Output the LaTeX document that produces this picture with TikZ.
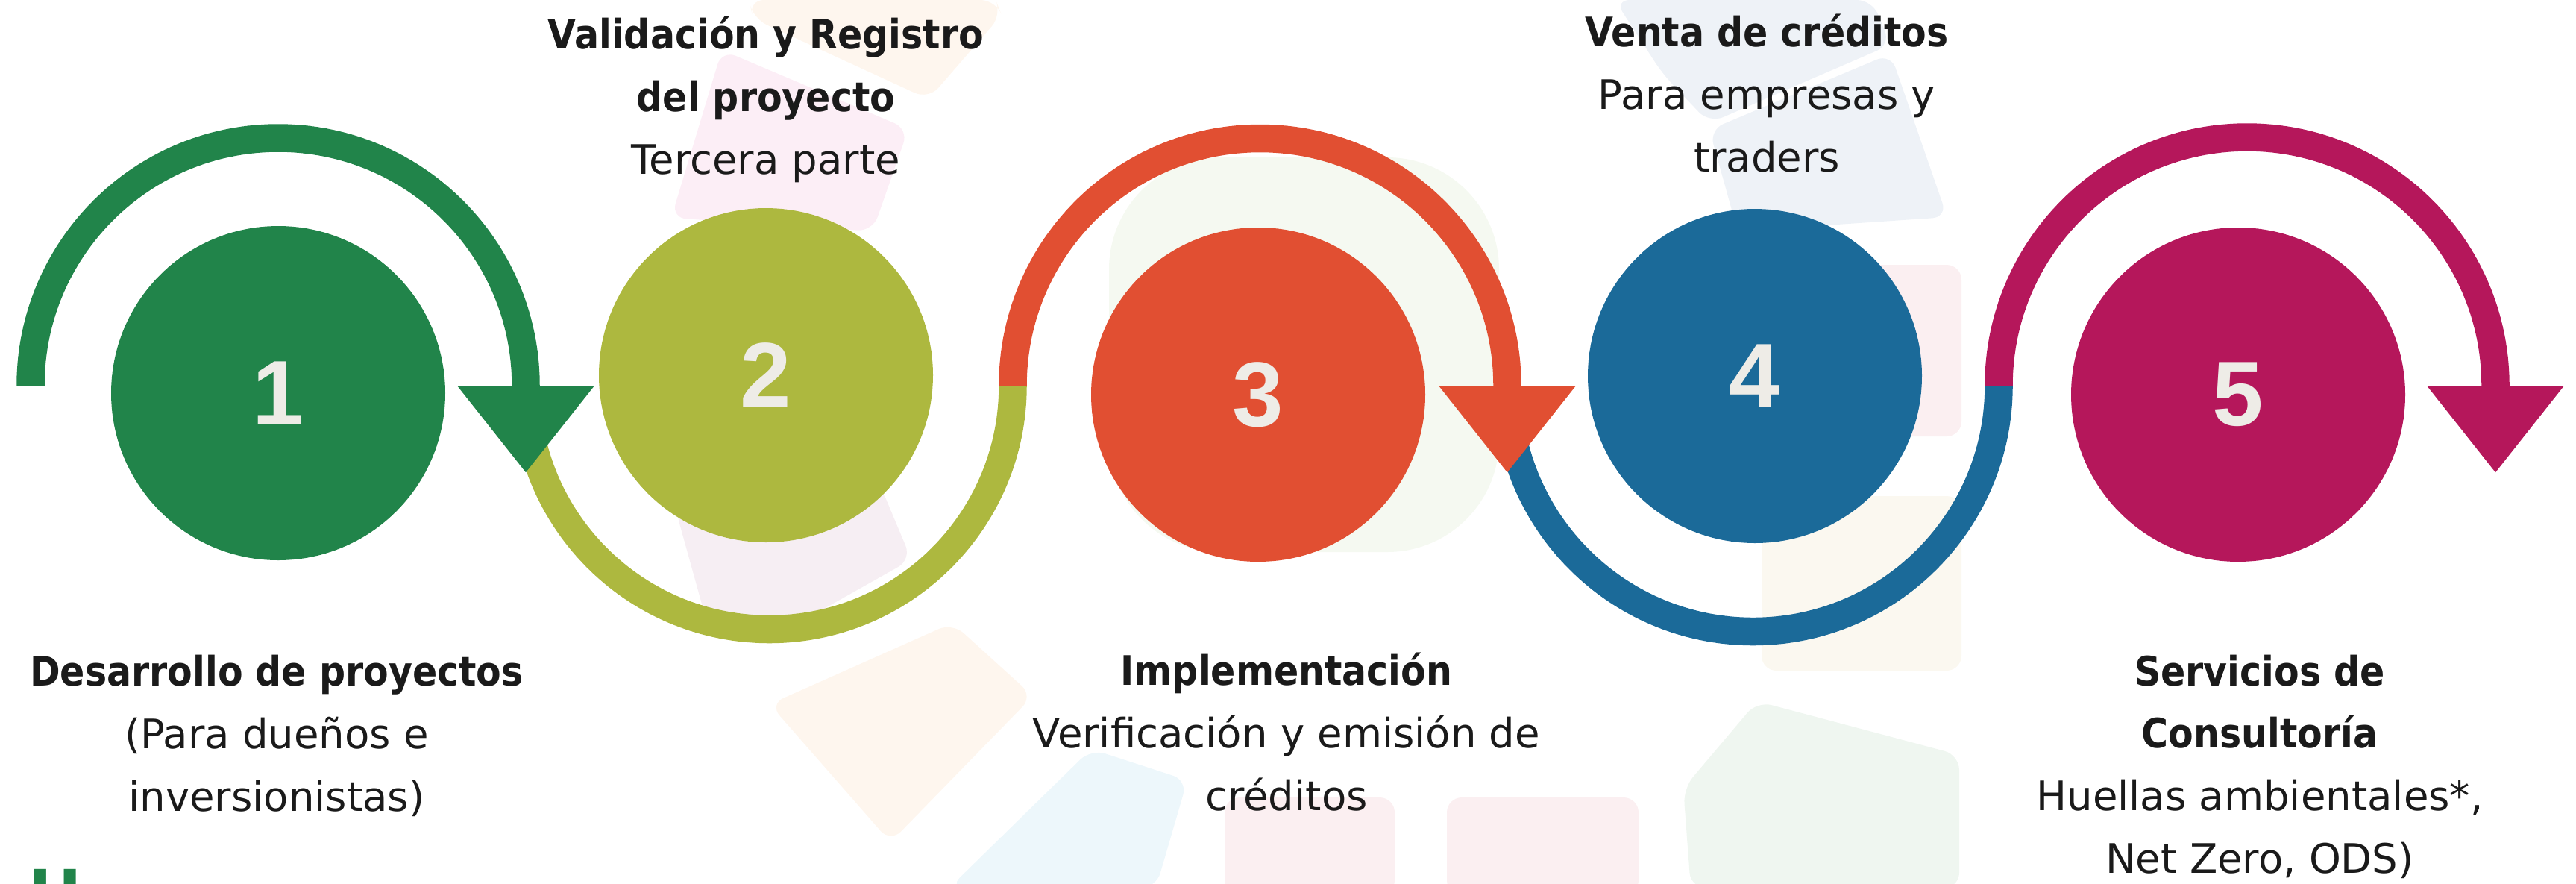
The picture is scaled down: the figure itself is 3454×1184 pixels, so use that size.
\documentclass[tikz,border=0pt]{standalone}
\usepackage{fontspec}
\setmainfont{DejaVu Sans}[BoldFeatures={FakeStretch=0.9}]
\newfontfamily\numfont{Liberation Sans}
\usetikzlibrary{arrows.meta,positioning}

\definecolor{stepgreen}{HTML}{21844A}
\definecolor{stepolive}{HTML}{ADB83F}
\definecolor{stepred}{HTML}{E14F32}
\definecolor{stepblue}{HTML}{1B6A99}
\definecolor{stepmagenta}{HTML}{B5175B}
\definecolor{numwhite}{HTML}{EEECE7}
\definecolor{ink}{HTML}{1A1A1A}
% watermark tints
\definecolor{wmpeach}{HTML}{FEF6EE}
\definecolor{wmpink}{HTML}{FCEEF6}
\definecolor{wmlilac}{HTML}{F6EEF3}
\definecolor{wmcream}{HTML}{FBF8F0}
\definecolor{wmsky}{HTML}{EDF7FB}
\definecolor{wmrose}{HTML}{FBEFF1}
\definecolor{wmmint}{HTML}{F5F9F1}
\definecolor{wmgrey}{HTML}{EEF2F7}
\definecolor{wmsage}{HTML}{EFF6F0}

\begin{document}
\begin{tikzpicture}[x=0.1mm,y=0.1mm,
    stepdot/.style={circle, fill=#1, minimum size=44.8mm, inner sep=0pt,
      font=\numfont\bfseries\fontsize{35}{35}\selectfont, text=numwhite},
    band/.style={draw=#1, line width=3.75mm},
    headband/.style={band=#1, -{Triangle[width=17.6mm,length=11.7mm]}},
    steptext/.style={align=center, anchor=base, inner sep=0pt, text=ink,
      font=\fontsize{15.5}{23.8}\selectfont},
    wm/.style={fill=#1, rounded corners=2mm}]
  \useasboundingbox (0,0) rectangle (3454,-1184);
  \clip (0,0) rectangle (3454,-1184);

  % faint logo in the background
  \fill[wm=wmpeach] (1004,0) -- (1335,0) -- (1343,-20) -- (1245,-133) -- (1010,-25) -- cycle;
  \fill[wm=wmpink] (968,-67) -- (1218,-173) -- (1170,-310) -- (900,-292) -- cycle;
  \fill[wm=wmlilac] (905,-680) -- (1180,-650) -- (1222,-750) -- (1080,-830) -- (955,-860) -- cycle;
  \fill[wm=wmpeach] (1277,-835) -- (1385,-933) -- (1194,-1129) -- (1032,-944) -- cycle;
  \fill[wm=wmsky] (1273,-1190) -- (1463,-1004) -- (1592,-1046) -- (1550,-1190) -- cycle;
  \fill[wm=wmrose] (1642,-1069) rectangle (1870,-1200);
  \fill[wm=wmrose] (1940,-1069) rectangle (2197,-1200);
  \fill[wmmint, rounded corners=15mm] (1487,-211) rectangle (2010,-740);
  \fill[wm=wmgrey] (2165,0) -- (2510,0) -- (2535,-60) -- (2292,-165) -- (2230,-100) -- cycle;
  \fill[wm=wmgrey] (2292,-174) -- (2535,-72) -- (2611,-291) -- (2330,-310) -- cycle;
  \fill[wm=wmrose] (2400,-355) rectangle (2630,-585);
  \fill[wm=wmcream] (2362,-665) rectangle (2630,-899);
  \fill[wm=wmsage] (2356,-940) -- (2627,-1012) -- (2627,-1190) -- (2267,-1190) -- (2257,-1057) -- cycle;

  % steps
  \node[stepdot=stepgreen] (s1) at (373,-527) {1};
  \node[stepdot=stepolive] (s2) at (1027,-503) {2};
  \node[stepdot=stepred] (s3) at (1687,-529) {3};
  \node[stepdot=stepblue] (s4) at (2353,-504) {4};
  \node[stepdot=stepmagenta] (s5) at (3001,-529) {5};

  % path around the steps
  \coordinate (j0) at (41,-517);
  \coordinate (j1) at (705,-517);
  \coordinate (j2) at (1358,-517);
  \coordinate (j3) at (2021,-517);
  \coordinate (j4) at (2680,-517);
  \draw[band=stepolive] (j1) arc[start angle=180, end angle=360, radius=326.5];
  \draw[band=stepblue] (j3) arc[start angle=180, end angle=360, radius=329.5];
  \draw[headband=stepgreen] (j0) arc[start angle=180, end angle=0, radius=332] -- ++(0,-117);
  \draw[headband=stepred] (j2) arc[start angle=180, end angle=0, radius=331.5] -- ++(0,-117);
  \draw[headband=stepmagenta] (j4) arc[start angle=180, end angle=0, radius=333] -- ++(0,-117);

  % labels (anchored on the last line)
  \node[steptext] (dev) at (371,-1087) {\textbf{Desarrollo de proyectos}\\(Para dueños e\\inversionistas)};
  \node[steptext] (val) at (1027,-233) {\textbf{Validación y Registro}\\\textbf{del proyecto}\\Tercera parte};
  \node[steptext] (impl) at (1725,-1086) {\textbf{Implementación}\\Verificación y emisión de\\créditos};
  \node[steptext] (sale) at (2369,-230) {\textbf{Venta de créditos}\\Para empresas y\\traders};
  \node[steptext] (cons) at (3030,-1170) {\textbf{Servicios de}\\\textbf{Consultoría}\\Huellas ambientales*,\\Net Zero, ODS)};
  \node[anchor=north west, inner sep=0pt, text=stepgreen, font=\bfseries\fontsize{27}{27}\selectfont] (hh) at (38,-1165) {H};
\end{tikzpicture}
\end{document}
